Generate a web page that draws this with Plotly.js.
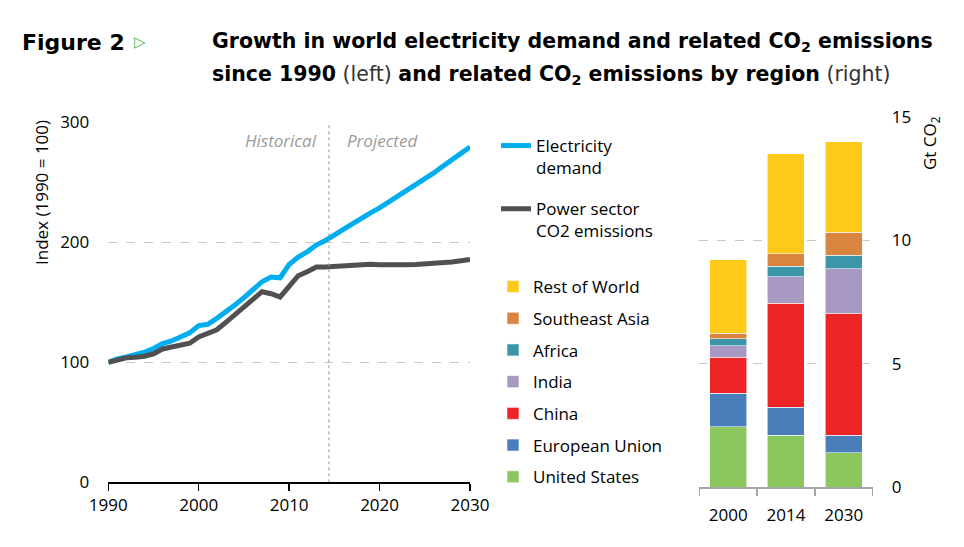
<!DOCTYPE html>
<html>
<head>
<meta charset="utf-8">
<script src="https://cdn.plot.ly/plotly-3.0.1.min.js"></script>
<style>html,body{margin:0;padding:0;background:#fff;}#chart{width:964px;height:547px;}</style>
</head>
<body>
<div id="chart"></div>
<script>
// ---- Left panel data (index, 1990 = 100) ----
const years = [1990,1991,1992,1993,1994,1995,1996,1997,1998,1999,
               2000,2001,2002,2003,2004,2005,2006,2007,2008,2009,
               2010,2011,2012,2013,2014,2015,2016,2017,2018,2019,
               2020,2021,2022,2023,2024,2025,2026,2027,2028,2029,2030];
const electricityDemand = [100,102.8,104.4,106,108.3,111.4,115.5,117.7,120.8,124.4,
                           130.5,131.6,136.5,141.5,147.6,153.7,159.8,167,170.9,170.3,
                           181.4,187.5,191.9,197.5,201.3,205.5,210.5,215.2,220.2,224.4,
                           228.5,233.2,237.9,242.4,247.3,252.3,257.6,263.1,268,273.9,279.2];
const powerCO2 = [100,102.2,103.6,104.2,105,107,111,112.7,114.4,115.8,
                  121,124.4,127,133.2,139.3,145.4,152,158.7,157,154.3,
                  163.1,172,175.3,179.2,179.2,179.7,180.2,180.8,181.3,181.5,
                  181.2,180.9,180.9,181.1,181.4,181.7,182.1,182.7,183.5,184.4,185.6];
const dividerYear = 2014.4;

// ---- Right panel data (Gt CO2) ----
const barYears = ['2000','2014','2030'];
const regions = ['United States','European Union','China','India','Africa','Southeast Asia','Rest of World'];
const unitedStates  = [2.44, 2.10, 1.38];
const europeanUnion = [1.37, 1.14, 0.73];
const china         = [1.45, 4.21, 4.93];
const india         = [0.48, 1.09, 1.81];
const africa        = [0.28, 0.42, 0.55];
const southeastAsia = [0.21, 0.51, 0.94];
const restOfWorld   = [3.00, 4.05, 3.67];
const regionValues = [unitedStates, europeanUnion, china, india, africa, southeastAsia, restOfWorld];
const regionColors = ['#8CC65E','#4A7EBB','#EE2527','#A899C2','#3A96A8','#D9843F','#FFC91A'];

const W = 964, H = 547;
const px = v => v / W;
const py = v => 1 - v / H;
const FONT = 'Open Sans, Noto Sans, sans-serif';

const traces = [
  {x: years, y: electricityDemand, type: 'scatter', mode: 'lines',
   name: 'Electricity<br>demand', line: {color: '#00AEEF', width: 5},
   legend: 'legend', legendgroup: 'g1', hoverinfo: 'skip'},
  {x: years, y: powerCO2, type: 'scatter', mode: 'lines',
   name: 'Power sector<br>CO2 emissions', line: {color: '#505052', width: 5},
   legend: 'legend', legendgroup: 'g2', hoverinfo: 'skip'}
];
regions.forEach((r, i) => {
  traces.push({x: barYears, y: regionValues[i], type: 'bar', name: r,
    xaxis: 'x2', yaxis: 'y2', legend: 'legend2', legendgroup: 'r' + i,
    legendrank: 100 - i,
    marker: {color: regionColors[i], line: {color: 'rgba(255,255,255,0.7)', width: 0.8}},
    hoverinfo: 'skip'});
});

const layout = {
  width: W, height: H,
  margin: {l: 0, r: 0, t: 0, b: 0},
  paper_bgcolor: '#fff', plot_bgcolor: 'rgba(0,0,0,0)',
  font: {family: FONT, size: 17, color: '#000'},
  barmode: 'stack', bargap: 0.36,
  xaxis: {domain: [px(108.3), px(470)], range: [1990, 2030], dtick: 10, tick0: 1990,
          showline: true, linecolor: '#000', linewidth: 1.5, ticks: 'outside', ticklen: 7,
          tickcolor: '#000', tickwidth: 1.5, showgrid: false, zeroline: false,
          tickfont: {size: 17}, fixedrange: true},
  yaxis: {domain: [py(482.3), py(122)], range: [0, 300], dtick: 100,
          showgrid: true, gridcolor: '#c8c8c8', gridwidth: 1, griddash: 'dash',
          zeroline: false, showline: false, ticks: '', ticklabelstandoff: 18,
          tickfont: {size: 17}, fixedrange: true},
  xaxis2: {domain: [px(699.3), px(872.7)], anchor: 'y2', type: 'category',
           showline: true, linecolor: '#a6a6a6', linewidth: 1.5, ticks: 'outside',
           tickson: 'boundaries', ticklen: 7, tickcolor: '#a6a6a6', tickwidth: 1.5,
           showgrid: false, zeroline: false, ticklabelstandoff: 12, tickfont: {size: 17}},
  yaxis2: {domain: [py(487), py(117.3)], anchor: 'x2', side: 'right', range: [0, 15], dtick: 5,
           showgrid: true, gridcolor: '#c8c8c8', gridwidth: 1, griddash: 'dash',
           zeroline: false, showline: false, ticks: '', ticklabelstandoff: 18,
           tickfont: {size: 17}},
  legend: {x: px(496), y: py(128), xanchor: 'left', yanchor: 'top',
           bgcolor: 'rgba(0,0,0,0)', font: {size: 17, family: FONT}, tracegroupgap: 16,
           valign: 'top', traceorder: 'grouped'},
  legend2: {x: px(493), y: py(269), xanchor: 'left', yanchor: 'top',
            bgcolor: 'rgba(0,0,0,0)', font: {size: 17, family: FONT}, tracegroupgap: 6.6,
            traceorder: 'grouped'},
  shapes: [
    {type: 'line', xref: 'x', yref: 'y', x0: dividerYear, x1: dividerYear, y0: 0, y1: 300,
     line: {color: '#9a9a9a', width: 1, dash: 'dot'}}
  ],
  annotations: [
    {xref: 'paper', yref: 'paper', x: px(20), y: py(42), xanchor: 'left', yanchor: 'middle',
     text: '<b>Figure 2</b>', showarrow: false,
     font: {family: 'DejaVu Sans, sans-serif', size: 22, color: '#000'}},
    {xref: 'paper', yref: 'paper', x: px(132), y: py(42), xanchor: 'left', yanchor: 'middle',
     text: '<b>▷</b>', showarrow: false,
     font: {family: 'DejaVu Sans, sans-serif', size: 15, color: '#3BB54A'}},
    {xref: 'paper', yref: 'paper', x: px(210), y: py(42), xanchor: 'left', yanchor: 'middle',
     text: '<b>Growth in world electricity demand and related CO<sub>2</sub> emissions</b>',
     showarrow: false, font: {family: 'DejaVu Sans, sans-serif', size: 20.5, color: '#000'}},
    {xref: 'paper', yref: 'paper', x: px(210), y: py(75), xanchor: 'left', yanchor: 'middle',
     text: '<b>since 1990</b> <span style="color:#333">(left)</span> <b>and related CO<sub>2</sub> emissions by region</b> <span style="color:#333">(right)</span>',
     showarrow: false, font: {family: 'DejaVu Sans, sans-serif', size: 20.5, color: '#000'}},
    {xref: 'paper', yref: 'paper', x: px(42), y: py(193), xanchor: 'center', yanchor: 'middle',
     text: 'Index (1990 = 100)', textangle: -90, showarrow: false, font: {size: 17}},
    {xref: 'paper', yref: 'paper', x: px(930), y: py(143), xanchor: 'center', yanchor: 'middle',
     text: 'Gt CO<sub>2</sub>', textangle: -90, showarrow: false, font: {size: 17}},
    {xref: 'x', yref: 'y', x: dividerYear, y: 285, xanchor: 'right', yanchor: 'middle', xshift: -10,
     text: '<i>Historical</i>', showarrow: false, font: {size: 17, color: '#9a9a9a'}},
    {xref: 'x', yref: 'y', x: dividerYear, y: 285, xanchor: 'left', yanchor: 'middle', xshift: 16,
     text: '<i>Projected</i>', showarrow: false, font: {size: 17, color: '#9a9a9a'}}
  ],
  showlegend: true
};

Plotly.newPlot('chart', traces, layout, {displayModeBar: false, staticPlot: true});
</script>
</body>
</html>
